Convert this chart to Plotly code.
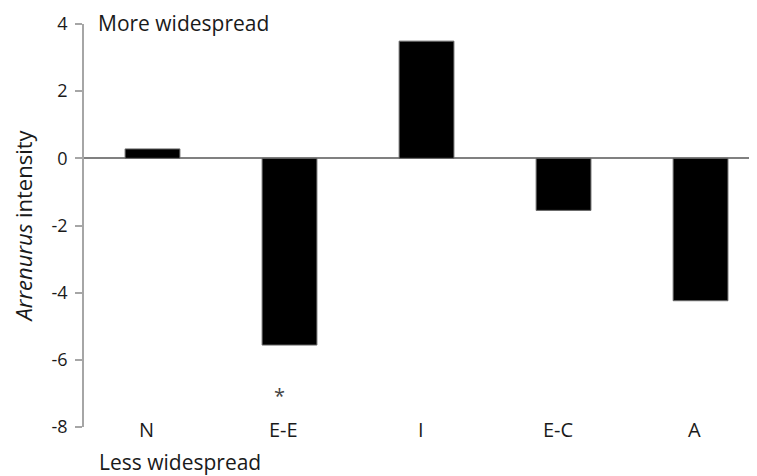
import plotly.graph_objects as go

categories = ["N", "E-E", "I", "E-C", "A"]
values = [0.28, -5.56, 3.49, -1.55, -4.24]
y_ticks = [-8, -6, -4, -2, 0, 2, 4]
y_tick_labels = ["-8", "-6", "-4", "-2", "0", "2", "4"]
significant = ["E-E"]
sig_level = -7.0

FONT = "Open Sans"
TXT = "#1a1a1a"

fig = go.Figure()
fig.add_trace(go.Bar(
    x=categories, y=values,
    marker=dict(color="black", line=dict(color="#6a6a6a", width=1)),
    showlegend=False,
))

annotations = []
for c in categories:
    annotations.append(dict(x=c, y=-8, xref="x", yref="y", text=c, showarrow=False,
                            xanchor="center", yanchor="middle", xshift=-6, yshift=-2,
                            font=dict(family=FONT, size=20, color=TXT)))
for c in significant:
    annotations.append(dict(x=c, y=sig_level, xref="x", yref="y", text="*", showarrow=False,
                            xanchor="center", yanchor="middle", xshift=-10, yshift=-2,
                            font=dict(family=FONT, size=20, color="#444")))
annotations.append(dict(x=0.018, y=4, xref="paper", yref="y", text="More widespread",
                        showarrow=False, xanchor="left", yanchor="middle", yshift=1,
                        font=dict(family=FONT, size=21, color=TXT)))
annotations.append(dict(x=0.019, y=-0.087, xref="paper", yref="paper", text="Less widespread",
                        showarrow=False, xanchor="left", yanchor="middle",
                        font=dict(family=FONT, size=21, color=TXT)))

fig.update_layout(
    width=749, height=468,
    margin=dict(l=76, r=0, t=16, b=49),
    paper_bgcolor="white", plot_bgcolor="white",
    bargap=0.6,
    font=dict(family=FONT, color=TXT),
    annotations=annotations,
    xaxis=dict(range=[-0.5, 4.412], showticklabels=False, showgrid=False,
               zeroline=False, showline=False, ticks=""),
    yaxis=dict(range=[-8, 4], tickvals=y_ticks, ticktext=y_tick_labels,
               showgrid=False, showline=True, linecolor="#a6a6a6", linewidth=1.5,
               ticks="outside", ticklen=7, tickcolor="#a6a6a6", tickwidth=1.5,
               ticklabelstandoff=4,
               zeroline=True, zerolinecolor="#808080", zerolinewidth=1.5,
               tickfont=dict(family=FONT, size=18, color=TXT),
               title=dict(text="<i>Arrenurus</i> intensity", standoff=24,
                          font=dict(family=FONT, size=22, color=TXT))),
)

fig.write_html("out.html")
